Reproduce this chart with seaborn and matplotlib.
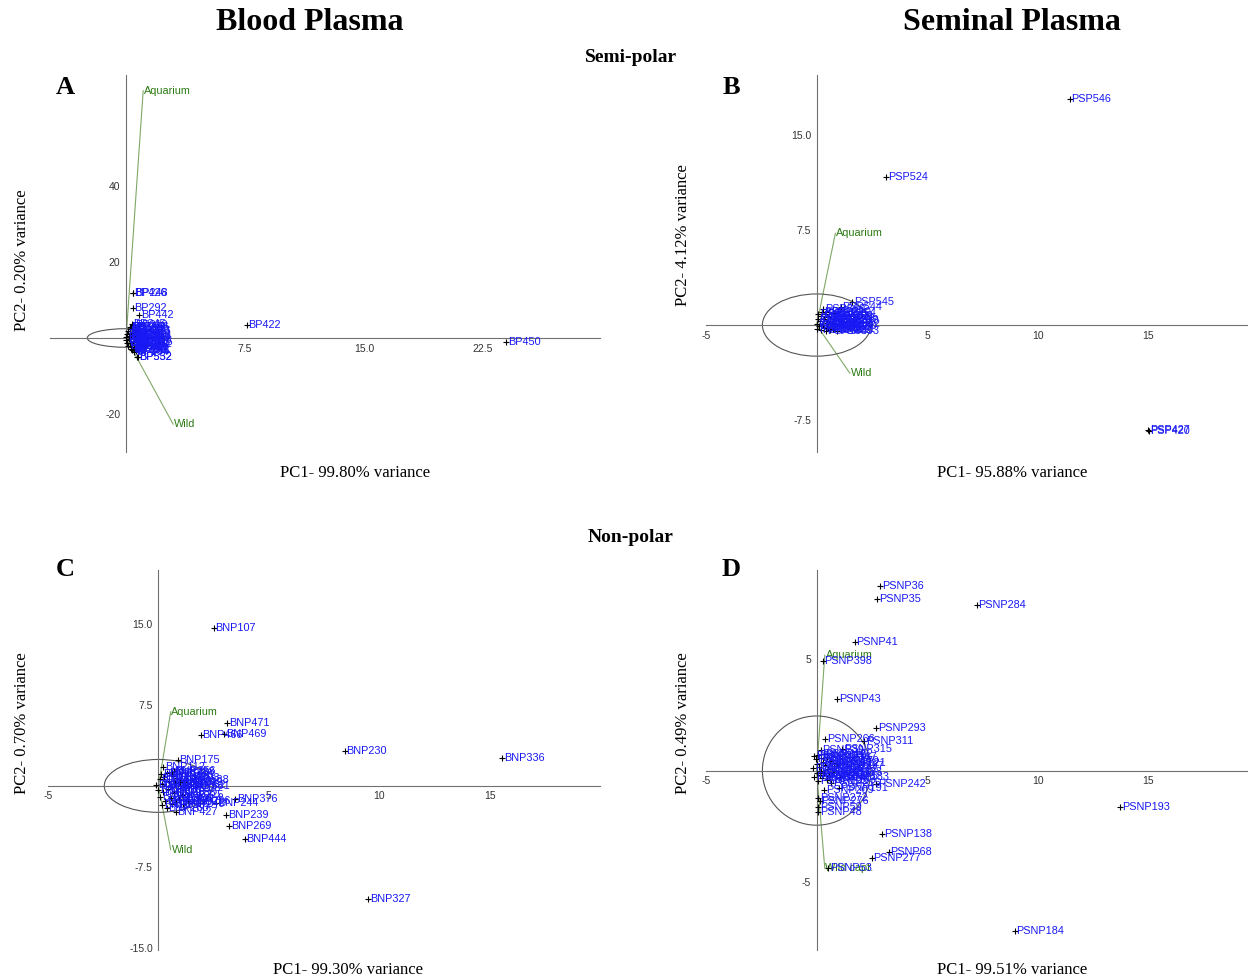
import matplotlib
matplotlib.use("Agg")
import matplotlib.pyplot as plt
import seaborn as sns
import pandas as pd
from matplotlib.patches import Ellipse

sns.set_theme(style="white")
plt.rcParams["font.family"] = ["Liberation Sans", "DejaVu Sans"]
plt.rcParams["text.color"] = "black"

# ---------- A: blood plasma, semi-polar ----------
a_names = ["BP101", "BP104", "BP112", "BP118", "BP125", "BP131", "BP137", "BP143",
           "BP150", "BP158", "BP163", "BP170", "BP176", "BP181", "BP189", "BP194",
           "BP203", "BP211", "BP219", "BP226", "BP233", "BP240", "BP257", "BP264",
           "BP271", "BP274", "BP286", "BP301", "BP316", "BP326", "BP336", "BP345",
           "BP356", "BP366", "BP388", "BP396", "BP532", "BP552", "BP442", "BP292",
           "BP426", "BP248", "BP422", "BP450"]
a_pc1 = [0.00, 0.02, 0.05, 0.06, 0.12, 0.14, 0.18, 0.20,
         0.30, 0.32, 0.24, 0.26, 0.30, 0.36, 0.38, 0.50,
         0.42, 0.44, 0.45, 0.52, 0.55, 0.58, 0.60, 0.64,
         0.66, 0.72, 0.74, 0.70, 0.68, 0.76, 0.40, 0.36,
         0.62, 0.22, 0.48, 0.56, 0.71, 0.73, 0.82, 0.42,
         0.42, 0.44, 7.60, 24.0]
a_pc2 = [0.2, -0.5, 1.0, -1.2, 1.8, -2.0, 0.6, -0.2,
         3.0, -3.0, 2.4, -1.4, 0.4, 1.4, -2.4, -3.6,
         0.9, -0.7, 3.4, -1.8, 0.1, 2.2, -1.0, 1.1,
         -2.8, 0.6, -0.4, -1.6, 1.8, -1.1, -3.2, 3.8,
         -3.3, 2.8, -2.6, 2.9, -4.9, -4.9, 6.1, 7.8,
         11.9, 11.9, 3.4, -1.0]
a_groups = ["Aquarium", "Wild"]
a_load_pc1 = [1.08, 2.97]
a_load_pc2 = [65.1, -22.7]
a_xticks = [7.5, 15.0, 22.5]
a_xticklabels = ["7.5", "15.0", "22.5"]
a_yticks = [40, 20, -20]
a_yticklabels = ["40", "20", "-20"]

# ---------- B: seminal plasma, semi-polar ----------
b_names = ["PSP102", "PSP108", "PSP115", "PSP121", "PSP127", "PSP133", "PSP140", "PSP146",
           "PSP152", "PSP159", "PSP165", "PSP171", "PSP178", "PSP184", "PSP190", "PSP197",
           "PSP203", "PSP210", "PSP216", "PSP222", "PSP229", "PSP235", "PSP241", "PSP248",
           "PSP254", "PSP260", "PSP267", "PSP299", "PSP342", "PSP393", "PSP310", "PSP544",
           "PSP545", "PSP524", "PSP546", "PSP427", "PSP420"]
b_pc1 = [0.00, 0.02, 0.05, 0.08, 0.10, 0.15, 0.18, 0.22,
         0.25, 0.28, 0.32, 0.35, 0.40, 0.42, 0.45, 0.50,
         0.52, 0.56, 0.60, 0.62, 0.66, 0.70, 0.74, 0.78,
         0.82, 0.85, 0.88, 0.95, 1.00, 0.92, 0.30, 1.10,
         1.60, 3.14, 11.45, 14.98, 15.02]
b_pc2 = [0.10, -0.30, 0.50, 0.90, -0.10, 0.30, -0.40, 0.70,
         1.00, 0.00, -0.25, 0.45, 0.85, -0.45, 0.20, 0.60,
         -0.15, 1.00, 0.35, -0.40, 0.75, 0.05, -0.30, 0.50,
         0.95, -0.10, 0.30, 0.38, 0.08, -0.50, 1.26, 1.45,
         1.80, 11.66, 17.84, -8.29, -8.33]
b_groups = ["Aquarium", "Wild"]
b_load_pc1 = [0.85, 1.51]
b_load_pc2 = [7.24, -3.81]
b_xticks = [-5, 5, 10, 15]
b_xticklabels = ["-5", "5", "10", "15"]
b_yticks = [15.0, 7.5, -7.5]
b_yticklabels = ["15.0", "7.5", "-7.5"]

# ---------- C: blood plasma, non-polar ----------
c_names = ["BNP101", "BNP105", "BNP109", "BNP113", "BNP118", "BNP121", "BNP126", "BNP131",
           "BNP137", "BNP142", "BNP148", "BNP153", "BNP159", "BNP164", "BNP170", "BNP181",
           "BNP186", "BNP192", "BNP197", "BNP203", "BNP208", "BNP214", "BNP219", "BNP225",
           "BNP246", "BNP252", "BNP258", "BNP263", "BNP288", "BNP296", "BNP338", "BNP331",
           "BNP112", "BNP256", "BNP175", "BNP427", "BNP244", "BNP376", "BNP239", "BNP269",
           "BNP444", "BNP466", "BNP469", "BNP471", "BNP107", "BNP230", "BNP336", "BNP327"]
c_pc1 = [-0.10, 0.00, 0.05, 0.08, 0.12, 0.15, 0.20, 0.25,
         0.30, 0.35, 0.40, 0.45, 0.50, 0.55, 0.60, 0.65,
         0.70, 0.75, 0.80, 0.85, 0.90, 0.95, 1.00, 1.05,
         1.10, 1.15, 0.18, 0.38, 0.62, 1.35, 1.25, 1.33,
         0.21, 0.70, 0.88, 0.79, 2.63, 3.47, 3.06, 3.20,
         3.92, 1.91, 2.99, 3.11, 2.50, 8.44, 15.58, 9.50]
c_pc2 = [0.1, -0.4, 0.6, -1.0, 1.1, 0.2, -0.6, 0.8,
         -1.4, 0.0, 1.2, -0.3, 0.5, -1.1, -1.7, 0.9,
         -0.7, 0.3, -1.5, 0.7, -0.2, -1.2, 0.4, -0.8,
         -1.65, 0.1, -1.8, -2.0, 1.3, -1.4, 0.55, 0.0,
         1.79, 1.39, 2.41, -2.44, -1.6, -1.2, -2.72, -3.67,
         -4.90, 4.72, 4.78, 5.86, 14.6, 3.24, 2.62, -10.5]
c_groups = ["Aquarium", "Wild"]
c_load_pc1 = [0.56, 0.56]
c_load_pc2 = [6.88, -5.93]
c_xticks = [-5, 5, 10, 15]
c_xticklabels = ["-5", "5", "10", "15"]
c_yticks = [15.0, 7.5, -7.5, -15.0]
c_yticklabels = ["15.0", "7.5", "-7.5", "-15.0"]

# ---------- D: seminal plasma, non-polar ----------
d_names = ["PSNP101", "PSNP104", "PSNP107", "PSNP111", "PSNP114", "PSNP118", "PSNP122",
           "PSNP126", "PSNP130", "PSNP134", "PSNP141", "PSNP145", "PSNP149", "PSNP152",
           "PSNP156", "PSNP160", "PSNP163", "PSNP167", "PSNP171", "PSNP175", "PSNP179",
           "PSNP183", "PSNP188", "PSNP191", "PSNP197", "PSNP215", "PSNP221", "PSNP395",
           "PSNP39", "PSNP315", "PSNP266", "PSNP311", "PSNP293", "PSNP43", "PSNP398",
           "PSNP41", "PSNP35", "PSNP36", "PSNP284", "PSNP242", "PSNP209", "PSNP272",
           "PSNP276", "PSNP59", "PSNP48", "PSNP193", "PSNP138", "PSNP68", "PSNP277",
           "PSNP53", "PSNP184"]
d_pc1 = [-0.15, -0.10, -0.05, 0.00, 0.02, 0.05, 0.08,
         0.12, 0.15, 0.18, 0.22, 0.25, 0.28, 0.32,
         0.35, 0.40, 0.45, 0.48, 0.52, 0.55, 0.60,
         1.05, 0.70, 1.00, 0.80, 0.65, 0.90, -0.11,
         0.19, 1.15, 0.39, 2.15, 2.69, 0.94, 0.28,
         1.73, 2.74, 2.87, 7.24, 2.70, 0.34, 0.07,
         0.15, 0.07, 0.07, 13.72, 2.96, 3.27, 2.50,
         0.52, 8.96]
d_pc2 = [0.10, -0.30, 0.50, -0.10, 0.30, 0.70, -0.45,
         0.15, -0.20, 0.55, 0.00, -0.35, 0.40, 0.75,
         -0.10, 0.25, -0.40, 0.60, 0.05, -0.25, 0.45,
         -0.30, -0.05, -0.80, 0.20, -0.55, 0.35, 0.65,
         0.92, 0.96, 1.41, 1.32, 1.89, 3.20, 4.92,
         5.75, 7.68, 8.26, 7.45, -0.62, -0.87, -1.25,
         -1.36, -1.62, -1.85, -1.65, -2.85, -3.67, -3.91,
         -4.36, -7.18]
d_groups = ["Aquarium", "Wild capt."]
d_load_pc1 = [0.37, 0.37]
d_load_pc2 = [5.18, -4.39]
d_xticks = [-5, 5, 10, 15]
d_xticklabels = ["-5", "5", "10", "15"]
d_yticks = [5, -5]
d_yticklabels = ["5", "-5"]

W, H = 1248, 980
fig = plt.figure(figsize=(W / 100, H / 100), dpi=100)


def px_axes(left, top, right, bottom):
    return fig.add_axes([left / W, 1 - bottom / H, (right - left) / W, (bottom - top) / H])


def ftext(x, y, s, **kw):
    fig.text(x / W, 1 - y / H, s, ha="center", va="center", **kw)


def draw_panel(ax, names, pc1, pc2, groups, lpc1, lpc2,
               xt, xtl, yt, ytl, xlim, ylim):
    df = pd.DataFrame({"name": names, "pc1": pc1, "pc2": pc2})
    for g, lx, ly in zip(groups, lpc1, lpc2):
        ax.plot([0, lx], [0, ly], color="#7fa866", lw=0.8, zorder=1)
        ax.annotate(g, (lx, ly), xytext=(0.5, 0), textcoords="offset points",
                    color="#2b7a12", fontsize=7.8, va="center", zorder=2)
    ax.add_patch(Ellipse((0, 0), 4.9, 4.9, fill=False, ec="#555555", lw=0.8, zorder=1))
    sns.scatterplot(data=df, x="pc1", y="pc2", marker="+", color="black",
                    s=14, linewidth=0.8, ax=ax, zorder=3)
    for _, r in df.iterrows():
        ax.annotate(r["name"], (r["pc1"], r["pc2"]), xytext=(1.2, 0),
                    textcoords="offset points", color="#1818f5",
                    fontsize=7.8, va="center", zorder=4)
    ax.set_xlim(xlim)
    ax.set_ylim(ylim)
    ax.spines["left"].set_position("zero")
    ax.spines["bottom"].set_position("zero")
    ax.spines["top"].set_visible(False)
    ax.spines["right"].set_visible(False)
    for s in ("left", "bottom"):
        ax.spines[s].set_color("#707070")
        ax.spines[s].set_linewidth(0.8)
    ax.set_xticks(xt, xtl)
    ax.set_yticks(yt, ytl)
    ax.tick_params(labelsize=7.5, labelcolor="#333333", color="#707070",
                   length=2.5, width=0.7, pad=1.5, direction="out")
    ax.set_xlabel("")
    ax.set_ylabel("")
    ax.grid(False)
    ax.patch.set_alpha(0)


axA = px_axes(50, 75, 600, 452)
draw_panel(axA, a_names, a_pc1, a_pc2, a_groups, a_load_pc1, a_load_pc2,
           a_xticks, a_xticklabels, a_yticks, a_yticklabels, (-4.8, 29.9), (-30, 69.2))
axB = px_axes(706, 75, 1248, 452)
draw_panel(axB, b_names, b_pc1, b_pc2, b_groups, b_load_pc1, b_load_pc2,
           b_xticks, b_xticklabels, b_yticks, b_yticklabels, (-5, 19.5), (-10.0, 19.7))
axC = px_axes(48, 570, 600, 950)
draw_panel(axC, c_names, c_pc1, c_pc2, c_groups, c_load_pc1, c_load_pc2,
           c_xticks, c_xticklabels, c_yticks, c_yticklabels, (-5, 20), (-15.2, 20))
axD = px_axes(706, 570, 1248, 950)
draw_panel(axD, d_names, d_pc1, d_pc2, d_groups, d_load_pc1, d_load_pc2,
           d_xticks, d_xticklabels, d_yticks, d_yticklabels, (-5, 19.5), (-8.05, 9.0))

serif = "Liberation Serif"
ftext(310, 22, "Blood Plasma", family=serif, weight="bold", size=23)
ftext(1012, 22, "Seminal Plasma", family=serif, weight="bold", size=23)
ftext(631, 58, "Semi-polar", family=serif, weight="bold", size=14)
ftext(631, 537, "Non-polar", family=serif, weight="bold", size=14)

for x, y, s in [(65, 87, "A"), (731, 87, "B"), (65, 570, "C"), (731, 570, "D")]:
    ftext(x, y, s, family=serif, weight="bold", size=19)

ftext(355, 473, "PC1- 99.80% variance", family=serif, size=12)
ftext(22, 260, "PC2- 0.20% variance", family=serif, size=12, rotation=90)
ftext(1012, 473, "PC1- 95.88% variance", family=serif, size=12)
ftext(683, 235, "PC2- 4.12% variance", family=serif, size=12, rotation=90)
ftext(348, 970, "PC1- 99.30% variance", family=serif, size=12)
ftext(22, 723, "PC2- 0.70% variance", family=serif, size=12, rotation=90)
ftext(1012, 970, "PC1- 99.51% variance", family=serif, size=12)
ftext(683, 723, "PC2- 0.49% variance", family=serif, size=12, rotation=90)

fig.savefig("out.png", dpi=100)
